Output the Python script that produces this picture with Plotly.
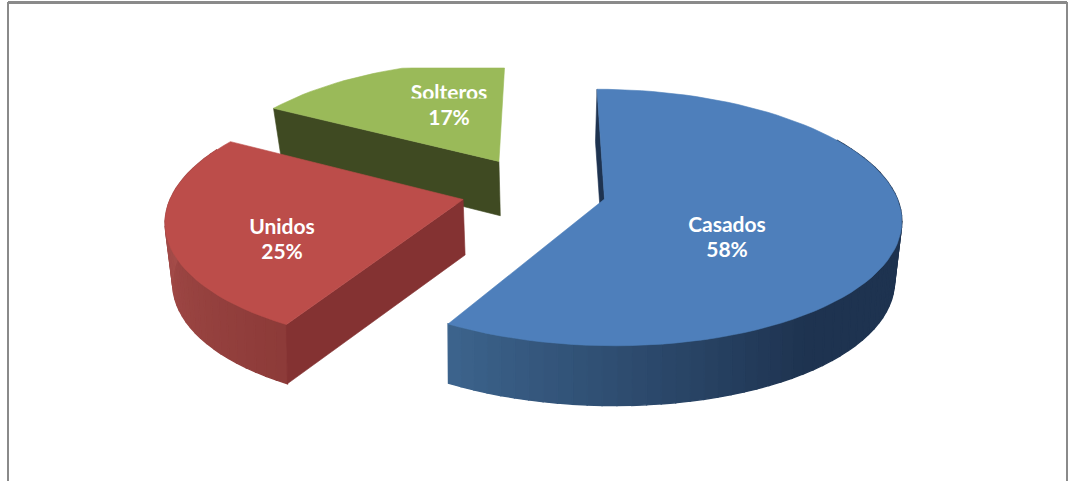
import numpy as np
import plotly.graph_objects as go

# ---- data ----
categories = ["Casados", "Unidos", "Solteros"]
share_values = [58.2, 25.0, 16.8]
percent_labels = ["58%", "25%", "17%"]

# ---- styling / view parameters ----
W, H = 1068, 481
top_colors = ["#4e7fbb", "#bc4d4a", "#9aba59"]
radial_wall_colors = ["#1e3350", "#843232", "#3f4a22"]
arc_wall_dark = [(30, 51, 80), (139, 57, 55), (63, 74, 34)]
arc_wall_light = [(60, 99, 140), (165, 77, 74), (63, 74, 34)]
arc_dark_angle = [145, 205, 360]
arc_light_angle = [208.8, 270, 298.8]
label_xy = [(727, 224), (282, 226), (449, 92)]
LINE_GAP = 25

# perspective projection of the pie plane
VX = 545.0        # vanishing column
FX = 293.0        # horizontal radius in pixels
Y_A, Y_B, Y_C = 199.5, -97.0, 0.144   # y = (A + B*Yw)/(1 + C*Yw)
EXPLODE_X, EXPLODE_Y = 0.25, 0.28
ORIGIN_X, ORIGIN_Y = -0.0385, 0.075
CLIP_TOP = 68.0   # the plot area crops the top of the farthest slice


def project(xw, yw):
    s = 1.0 / (1.0 + Y_C * yw)
    return VX + FX * xw * s, (Y_A + Y_B * yw) * s


def drop(x, y):
    """Screen position of the bottom face under a top-face point."""
    f = np.clip(0.98 + 0.00016 * (y - 225.0), 0.97, 1.0)
    return VX + (x - VX) * f, y * 1.03 + 49.5


def mix(a, b, t):
    return "rgb(%d,%d,%d)" % tuple(round(a[i] + (b[i] - a[i]) * t) for i in range(3))


def polygon(xs, ys, color, width=0.6):
    return go.Scatter(x=list(xs), y=list(ys), mode="lines", fill="toself",
                      fillcolor=color, line=dict(color=color, width=width),
                      hoverinfo="skip", showlegend=False)


fig = go.Figure()
total = sum(share_values)
edges = np.concatenate([[0], np.cumsum(share_values)]) / total * 360.0

traces_by_slice = []
for i in range(len(categories)):
    a0, a1 = edges[i], edges[i + 1]
    mid = np.radians((a0 + a1) / 2)
    cxw = ORIGIN_X + EXPLODE_X * np.sin(mid)
    cyw = ORIGIN_Y + EXPLODE_Y * np.cos(mid)
    th = np.radians(np.linspace(a0, a1, int((a1 - a0) / 2.5) + 2))
    ax, ay = project(cxw + np.sin(th), cyw + np.cos(th))
    px, py = project(cxw, cyw)

    parts = []
    # curved outer wall (only the side facing the viewer)
    bx, by = drop(ax, ay)
    deg = np.degrees(th)
    for j in range(len(th) - 1):
        dm = 0.5 * (deg[j] + deg[j + 1])
        if dm < 60 or dm > 295:
            continue
        t = (dm - arc_dark_angle[i]) / (arc_light_angle[i] - arc_dark_angle[i])
        col = mix(arc_wall_dark[i], arc_wall_light[i], float(np.clip(t, 0, 1)))
        parts.append(polygon([ax[j], ax[j + 1], bx[j + 1], bx[j], ax[j]],
                             [ay[j], ay[j + 1], by[j + 1], by[j], ay[j]], col, 1.4))
    # radial wall on the slice's starting edge
    pbx, pby = drop(px, py)
    parts.append(polygon([px, ax[0], bx[0], pbx, px], [py, ay[0], by[0], pby, py],
                         radial_wall_colors[i]))
    # top face
    xs = np.concatenate([[px], ax, [px]])
    ys = np.maximum(np.concatenate([[py], ay, [py]]), CLIP_TOP)
    parts.append(polygon(xs, ys, top_colors[i]))
    traces_by_slice.append(parts)

# farthest slice first
for i in (2, 1, 0):
    fig.add_traces(traces_by_slice[i])

# labels
for name, pct, (lx, ly) in zip(categories, percent_labels, label_xy):
    fig.add_trace(go.Scatter(x=[lx, lx], y=[ly + 3, ly + 3 + LINE_GAP], mode="text",
                             text=[name, pct],
                             textfont=dict(family="Lato", size=21, color="white", weight="bold"),
                             textposition="middle center",
                             hoverinfo="skip", showlegend=False))

frame = "#8a8a8a"
fig.update_layout(
    width=W, height=H, autosize=False,
    margin=dict(l=0, r=0, t=0, b=0),
    paper_bgcolor="white", plot_bgcolor="white", showlegend=False,
    xaxis=dict(range=[0, W], visible=False, fixedrange=True),
    yaxis=dict(range=[H, 0], visible=False, fixedrange=True),
    shapes=[
        dict(type="line", xref="x", yref="y", x0=8, x1=W - 1, y0=2.5, y1=2.5, line=dict(color=frame, width=3)),
        dict(type="line", xref="x", yref="y", x0=8, x1=8, y0=2, y1=H, line=dict(color=frame, width=2)),
        dict(type="line", xref="x", yref="y", x0=W - 1, x1=W - 1, y0=2, y1=H, line=dict(color=frame, width=2)),
        # the reference crops the lower edge of the "Solteros" word
        dict(type="rect", xref="x", yref="y", x0=405, x1=495, y0=98.5, y1=103, layer="above",
             fillcolor=top_colors[2], line=dict(width=0)),
    ],
)
fig.write_html("out.html", config={"displayModeBar": False},
               post_script="document.body.style.margin='0';document.body.style.overflow='hidden';")
